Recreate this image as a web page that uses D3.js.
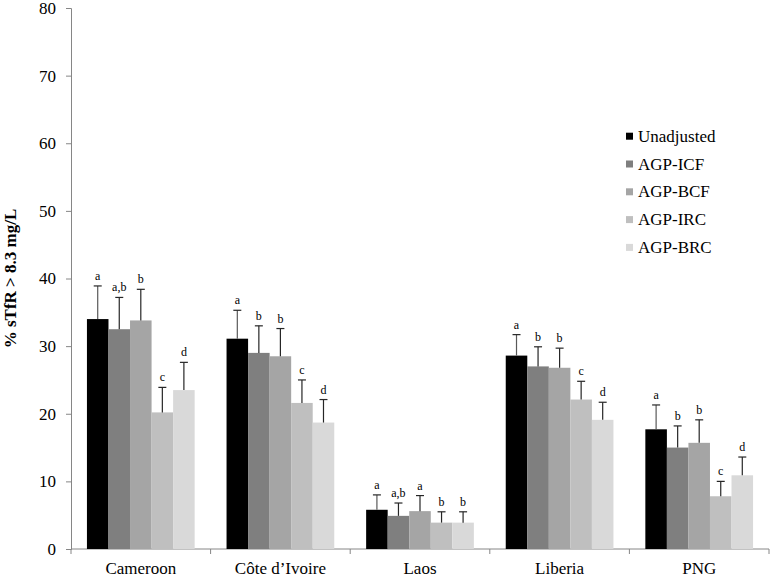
<!DOCTYPE html>
<html><head><meta charset="utf-8">
<script src="https://cdn.jsdelivr.net/npm/d3@7"></script>
<style>body{margin:0;background:#fff}svg{display:block}</style>
</head><body><svg id="c" width="771" height="577"></svg>
<script>
const countries = ["Cameroon", "Côte d\u2019Ivoire", "Laos", "Liberia", "PNG"];
const seriesNames = ["Unadjusted", "AGP-ICF", "AGP-BCF", "AGP-IRC", "AGP-BRC"];
const seriesColors = ["#000000", "#7f7f7f", "#a5a5a5", "#bfbfbf", "#d9d9d9"];
// values per series (one per country)
const unadjusted = [34.0, 31.1, 5.8, 28.6, 17.7];
const agpICF = [32.5, 29.0, 4.9, 27.0, 15.0];
const agpBCF = [33.8, 28.5, 5.6, 26.8, 15.7];
const agpIRC = [20.2, 21.6, 3.9, 22.1, 7.8];
const agpBRC = [23.5, 18.7, 3.9, 19.1, 10.9];
// upper error limits
const errUnadjusted = [38.9, 35.3, 8.0, 31.7, 21.3];
const errICF = [37.2, 33.0, 6.8, 29.9, 18.2];
const errBCF = [38.4, 32.6, 7.9, 29.7, 19.1];
const errIRC = [23.9, 25.0, 5.5, 24.8, 10.0];
const errBRC = [27.6, 22.1, 5.5, 21.7, 13.6];
// significance letters
const letUnadjusted = ["a", "a", "a", "a", "a"];
const letICF = ["a,b", "b", "a,b", "b", "b"];
const letBCF = ["b", "b", "a", "b", "b"];
const letIRC = ["c", "c", "b", "c", "c"];
const letBRC = ["d", "d", "b", "d", "d"];
const yTicks = [0, 10, 20, 30, 40, 50, 60, 70, 80];

const values = [unadjusted, agpICF, agpBCF, agpIRC, agpBRC];
const errs = [errUnadjusted, errICF, errBCF, errIRC, errBRC];
const lets = [letUnadjusted, letICF, letBCF, letIRC, letBRC];

const FONT = "Liberation Serif";
const svg = d3.select("#c");
const L = 71, R = 769, T = 8, B = 549;
const axisColor = "#868686";

const y = d3.scaleLinear().domain([0, 80]).range([B, T]);
const x0 = d3.scaleBand().domain(countries).range([L, R]).paddingInner(0).paddingOuter(0);
const x1 = d3.scaleBand().domain(seriesNames).range([0, x0.bandwidth()]).paddingInner(0).paddingOuter(0.74);

// y axis
const ya = svg.append("g").attr("transform", `translate(${L},0)`)
  .call(d3.axisLeft(y).tickValues(yTicks).tickSize(5).tickPadding(10));
ya.select(".domain").attr("stroke", axisColor);
ya.selectAll(".tick line").attr("stroke", axisColor);
ya.selectAll(".tick text").attr("font-family", FONT).attr("font-size", 17).attr("fill", "#000");

// x axis
const xa = svg.append("g").attr("transform", `translate(0,${B})`);
xa.append("line").attr("x1", L).attr("x2", R).attr("stroke", axisColor);
const bounds = countries.map(c => x0(c)).concat([R]);
xa.selectAll(".xt").data(bounds).join("line").attr("class", "xt")
  .attr("x1", d => d).attr("x2", d => d).attr("y1", 0).attr("y2", 5).attr("stroke", axisColor);
xa.selectAll(".xl").data(countries).join("text").attr("class", "xl")
  .attr("x", d => x0(d) + x0.bandwidth() / 2).attr("y", 25)
  .attr("font-family", FONT)
  .attr("text-anchor", "middle").attr("font-size", 17).attr("fill", "#000").text(d => d);

// bars
const g = svg.append("g");
seriesNames.forEach((s, si) => {
  countries.forEach((c, ci) => {
    const bx = x0(c) + x1(s), bw = x1.bandwidth(), cx = bx + bw / 2;
    g.append("rect").attr("x", bx).attr("width", bw)
      .attr("y", y(values[si][ci])).attr("height", B - y(values[si][ci]))
      .attr("fill", seriesColors[si]);
    const ey = y(errs[si][ci]);
    g.append("line").attr("x1", cx).attr("x2", cx).attr("y1", y(values[si][ci])).attr("y2", ey)
      .attr("stroke", si === 0 ? "#595959" : "#262626").attr("stroke-width", 1.2);
    g.append("line").attr("x1", cx - 4).attr("x2", cx + 4).attr("y1", ey).attr("y2", ey)
      .attr("stroke", "#262626").attr("stroke-width", 1.2);
    g.append("text").attr("x", cx).attr("y", ey - 6).attr("text-anchor", "middle")
      .attr("font-family", FONT)
      .attr("font-size", 12).attr("fill", "#000").text(lets[si][ci]);
  });
});

// y title
svg.append("text").attr("transform", `translate(16,${(T + B) / 2}) rotate(-90)`)
  .attr("font-family", FONT)
  .attr("text-anchor", "middle").attr("font-size", 17).attr("font-weight", "bold")
  .attr("fill", "#000").text("% sTfR > 8.3 mg/L");

// legend
const lg = svg.append("g");
seriesNames.forEach((s, i) => {
  const yy = 141.7 + i * 27.8;
  lg.append("rect").attr("x", 626).attr("y", yy - 9).attr("width", 7).attr("height", 7).attr("fill", seriesColors[i]);
  lg.append("text").attr("x", 638).attr("y", yy).attr("font-family", FONT)
    .attr("font-size", 17).attr("fill", "#000").text(s);
});
</script></body></html>
